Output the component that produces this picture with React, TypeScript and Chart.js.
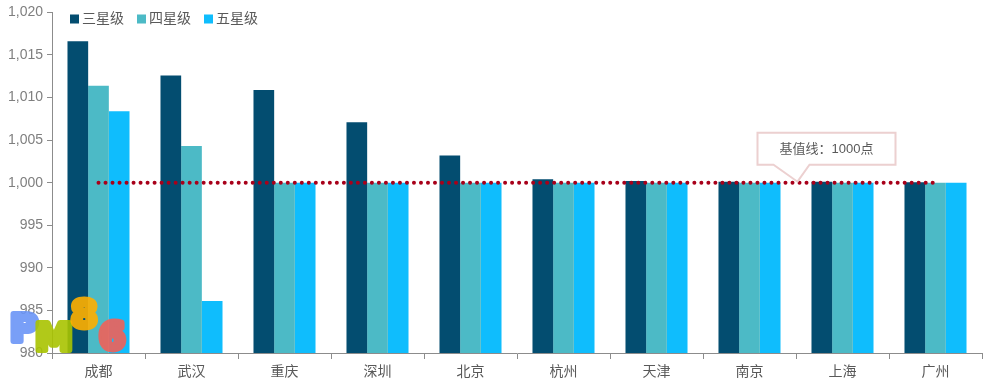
import React, { useEffect, useRef } from "react";
import { Chart, registerables } from "chart.js";

Chart.register(...registerables);

const categories = ["成都", "武汉", "重庆", "深圳", "北京", "杭州", "天津", "南京", "上海", "广州"];
const seriesNames = ["三星级", "四星级", "五星级"];
const threeStar = [1016.6, 1012.6, 1010.9, 1007.1, 1003.2, 1000.4, 1000.2, 1000.1, 1000.1, 1000.05];
const fourStar = [1011.4, 1004.3, 1000, 1000, 1000, 1000, 1000, 1000, 1000, 1000];
const fiveStar = [1008.4, 986.1, 1000, 1000, 1000, 1000, 1000, 1000, 1000, 1000];
const baseline = [1000, 1000, 1000, 1000, 1000, 1000, 1000, 1000, 1000, 1000];
const yMin = 980;
const yMax = 1020;
const yStep = 5;
const calloutText = "基值线：1000点";
const calloutIndex = 7;

const colors = ["#034d70", "#4cbac6", "#0fbdfd"];
const FONT = "'Liberation Sans', 'Noto Sans CJK SC', sans-serif";

const overlayPlugin = {
  id: "overlay",
  afterDraw(chart: any) {
    const ctx = chart.ctx;
    const x = chart.scales.x;
    const y = chart.scales.y;
    ctx.save();
    // legend
    ctx.font = `14px ${FONT}`;
    ctx.textBaseline = "middle";
    let lx = 70;
    const ly = 19;
    seriesNames.forEach((n, i) => {
      ctx.fillStyle = colors[i];
      ctx.fillRect(lx, ly - 4.5, 9, 9);
      ctx.fillStyle = "#595959";
      ctx.textAlign = "left";
      ctx.fillText(n, lx + 12, ly);
      lx += 12 + ctx.measureText(n).width + 13;
    });

    // callout
    const tipX = x.getPixelForValue(calloutIndex) + 48;
    const tipY = y.getPixelForValue(baseline[calloutIndex]) - 1;
    const bx0 = tipX - 40;
    const bx1 = tipX + 98;
    const by0 = tipY - 49;
    const by1 = tipY - 17;
    ctx.beginPath();
    ctx.moveTo(bx0, by0);
    ctx.lineTo(bx1, by0);
    ctx.lineTo(bx1, by1);
    ctx.lineTo(tipX + 12, by1);
    ctx.lineTo(tipX, tipY);
    ctx.lineTo(tipX - 24, by1);
    ctx.lineTo(bx0, by1);
    ctx.closePath();
    ctx.fillStyle = "#ffffff";
    ctx.fill();
    ctx.strokeStyle = "#ecd0d0";
    ctx.lineWidth = 2;
    ctx.stroke();
    ctx.fillStyle = "#595959";
    ctx.font = `13px ${FONT}`;
    ctx.textAlign = "center";
    ctx.textBaseline = "middle";
    ctx.fillText(calloutText, (bx0 + bx1) / 2, (by0 + by1) / 2 + 1);

    // watermark logo
    const glyphs: [string, string, number, number][] = [
      ["P", "#6b95f7", 10, 341],
      ["M", "#a9c400", 35, 350],
      ["8", "#ffb000", 71, 327],
      ["6", "#f0625a", 99, 349],
    ];
    glyphs.forEach(([g, c, gx, gy]) => {
      const off = document.createElement("canvas");
      off.width = 80;
      off.height = 80;
      const o = off.getContext("2d") as CanvasRenderingContext2D;
      o.font = `bold 38px 'DejaVu Sans', sans-serif`;
      o.textAlign = "left";
      o.textBaseline = "alphabetic";
      o.lineJoin = "round";
      o.lineWidth = 6;
      o.fillStyle = c;
      o.strokeStyle = c;
      o.strokeText(g, 10, 60);
      o.fillText(g, 10, 60);
      ctx.globalAlpha = 0.9;
      ctx.drawImage(off, gx - 10, gy - 60);
    });
    ctx.restore();
  },
};

export default function App() {
  const ref = useRef<HTMLCanvasElement>(null);
  useEffect(() => {
    const chart = new Chart(ref.current as HTMLCanvasElement, {
      type: "bar",
      data: {
        labels: categories,
        datasets: [
          {
            type: "line",
            label: "基值线",
            data: baseline,
            borderColor: "#a8001a",
            borderWidth: 4,
            borderDash: [0.01, 7],
            borderCapStyle: "round",
            pointRadius: 0,
            fill: false,
            order: 0,
          } as any,
          { label: seriesNames[0], data: threeStar, backgroundColor: colors[0], order: 1 },
          { label: seriesNames[1], data: fourStar, backgroundColor: colors[1], order: 1 },
          { label: seriesNames[2], data: fiveStar, backgroundColor: colors[2], order: 1 },
        ],
      },
      options: {
        responsive: false,
        animation: false,
        layout: { padding: { top: 10, right: 4, left: 0, bottom: 0 } },
        datasets: { bar: { categoryPercentage: 0.667, barPercentage: 1 } } as any,
        plugins: { legend: { display: false }, tooltip: { enabled: false } },
        scales: {
          x: {
            afterFit: (s: any) => { s.height = 31; },
            grid: { display: true, drawOnChartArea: false, drawTicks: true, tickLength: 6, color: "#8c8c8c", offset: true },
            border: { display: true, color: "#8c8c8c", width: 1 },
            ticks: { color: "#595959", font: { size: 14, family: FONT }, padding: 5 },
          },
          y: {
            min: yMin,
            max: yMax,
            afterFit: (s: any) => { s.width = 52; },
            grid: { display: true, drawOnChartArea: false, drawTicks: true, tickLength: 5, color: "#8c8c8c" },
            border: { display: true, color: "#8c8c8c", width: 1 },
            ticks: {
              stepSize: yStep,
              color: "#7f7f7f",
              font: { size: 14, family: FONT },
              padding: 4,
              callback: (v: any) => Number(v).toLocaleString("en-US"),
            },
          },
        },
      },
      plugins: [overlayPlugin],
    });
    return () => chart.destroy();
  }, []);
  return (
    <div style={{ position: "absolute", left: 0, top: 0, width: 986, height: 384, background: "#fff" }}>
      <canvas ref={ref} width={986} height={384} />
    </div>
  );
}
